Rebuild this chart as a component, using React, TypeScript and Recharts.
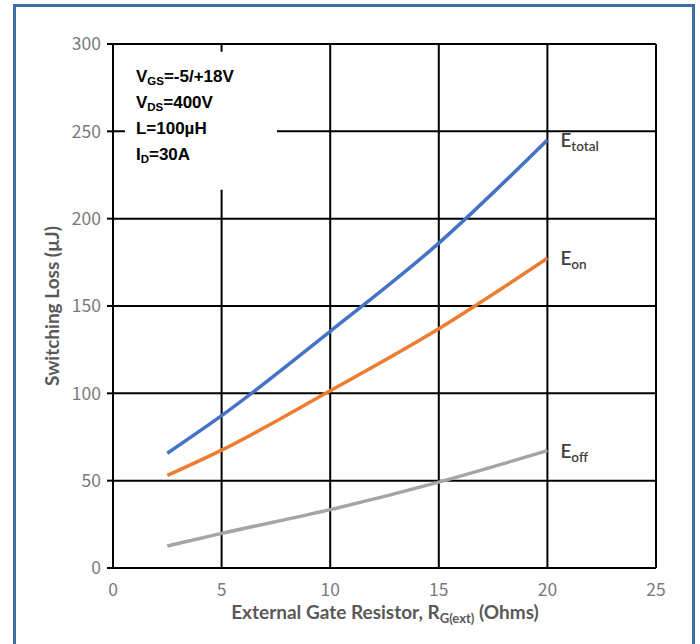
import { LineChart, Line, XAxis, YAxis, CartesianGrid, ReferenceArea } from 'recharts';

// gate resistance (Ohms) and switching energies (µJ)
const rg = [2.5, 5, 10, 15, 20];
const eTotal = [65.7, 87.2, 135.5, 186, 245];
const eOn = [53, 67.5, 101.5, 137, 177.3];
const eOff = [12.6, 19.8, 33.4, 49.2, 67.2];

const xTicks = [0, 5, 10, 15, 20, 25];
const yTicks = [0, 50, 100, 150, 200, 250, 300];

const data = rg.map((r, i) => ({ rg: r, total: eTotal[i], on: eOn[i], off: eOff[i] }));

const tickStyle = { fill: '#7a7a7a', fontSize: 17.5, fontFamily: "'Noto Sans CJK SC', 'Noto Sans', sans-serif", fontWeight: 400 };
const titleFont = "Lato, 'Open Sans', sans-serif";

// "E" with a subscript, placed just right of the last point of a curve
const endLabel = (sub: string) => (props: any) => {
    const { x, y, index } = props;
    if (index !== rg.length - 1) return null;
    return (
        <text x={x + 13} y={y + 7} fill="#404040" fontFamily={titleFont} fontWeight={600} fontSize={19}>
            E<tspan fontSize={13.5} dy={4}>{sub}</tspan>
        </text>
    );
};

// test conditions block, drawn over a white box that hides the grid behind it
const Conditions = (props: any) => {
    const { x, y } = props.viewBox;
    const f = { fill: '#000', fontFamily: "'Liberation Sans', Arial, sans-serif", fontWeight: 700, fontSize: 17 };
    return (
        <g>
            <text x={x + 11} y={y + 30} {...f}>V<tspan fontSize={11.5} dy={3}>GS</tspan><tspan dy={-3}>=-5/+18V</tspan></text>
            <text x={x + 11} y={y + 56} {...f}>V<tspan fontSize={11.5} dy={3}>DS</tspan><tspan dy={-3}>=400V</tspan></text>
            <text x={x + 11} y={y + 82} {...f}>L=100µH</text>
            <text x={x + 11} y={y + 108} {...f}>I<tspan fontSize={11.5} dy={3}>D</tspan><tspan dy={-3}>=30A</tspan></text>
        </g>
    );
};

export default function App() {
    return (
        <div style={{ position: 'absolute', left: 0, top: 0, width: 700, height: 644, background: '#fff', overflow: 'hidden' }}>
            <div style={{ position: 'absolute', left: 13, top: 4, width: 682, height: 660, border: '3px solid #3f6eaa', boxSizing: 'border-box' }} />
            <LineChart width={700} height={644} data={data} margin={{ top: 44, right: 44, bottom: 26, left: 53 }} style={{ position: 'absolute', left: 0, top: 0 }}>
                <CartesianGrid stroke="#000" strokeWidth={2} />
                <XAxis
                    dataKey="rg"
                    type="number"
                    domain={[0, 25]}
                    ticks={xTicks}
                    tickLine={false}
                    axisLine={{ stroke: '#000', strokeWidth: 2 }}
                    tick={tickStyle}
                    tickMargin={10}
                    height={50}
                />
                <YAxis
                    type="number"
                    domain={[0, 300]}
                    ticks={yTicks}
                    width={60}
                    tickSize={6}
                    tickLine={{ stroke: '#000', strokeWidth: 2 }}
                    axisLine={{ stroke: '#000', strokeWidth: 2 }}
                    tick={tickStyle}
                    tickMargin={6}
                    label={{ value: 'Switching Loss (µJ)', angle: -90, position: 'insideLeft', offset: -1, style: { fill: '#595959', fontFamily: titleFont, fontWeight: 700, fontSize: 19, textAnchor: 'middle' } }}
                />
                <ReferenceArea x1={0.55} x2={7.55} y1={216.5} y2={295.5} fill="#fff" fillOpacity={1} stroke="none" ifOverflow="visible" label={<Conditions />} />
                <Line type="monotone" dataKey="total" stroke="#4472c4" strokeWidth={3.5} dot={false} isAnimationActive={false} label={endLabel('total')} />
                <Line type="monotone" dataKey="on" stroke="#ed7d31" strokeWidth={3.5} dot={false} isAnimationActive={false} label={endLabel('on')} />
                <Line type="monotone" dataKey="off" stroke="#a5a5a5" strokeWidth={3.5} dot={false} isAnimationActive={false} label={endLabel('off')} />
                <text x={385} y={619} textAnchor="middle" fill="#595959" fontFamily={titleFont} fontWeight={700} fontSize={19}>
                    External Gate Resistor, R<tspan fontSize={13} dy={4}>G(ext)</tspan><tspan dy={-4}> (Ohms)</tspan>
                </text>
            </LineChart>
        </div>
    );
}
